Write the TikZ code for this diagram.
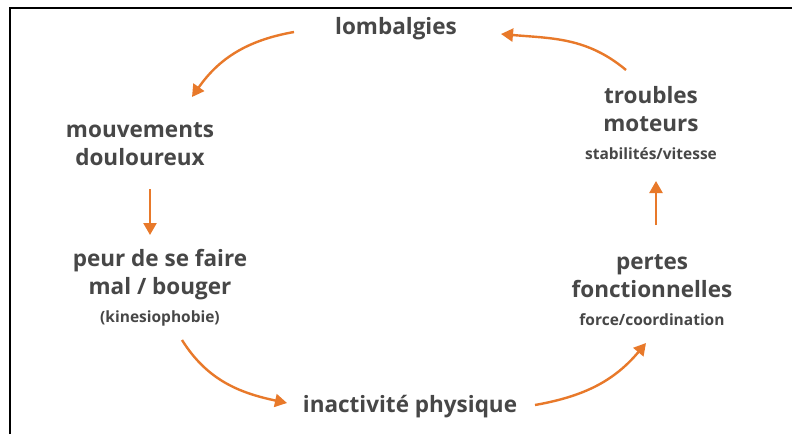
\documentclass[tikz,border=0pt]{standalone}
\usepackage{fontspec}
\setmainfont{Open Sans}
\usetikzlibrary{arrows.meta}
\definecolor{arrowor}{HTML}{E8792A}
\definecolor{txtgray}{HTML}{474747}
\newcommand{\smalltxt}[1]{{\fontsize{15.5}{17}\selectfont #1}}
\begin{document}
\begin{tikzpicture}[x=1pt,y=-1pt,
  big/.style={text=txtgray,font=\fontsize{22.5}{28}\selectfont\bfseries,align=center,inner sep=0pt},
  flow/.style={draw=arrowor,line width=2.4pt,-{Triangle[length=12pt,width=13pt]}}]
\useasboundingbox (0,0) rectangle (792,434);
\fill[white] (0,0) rectangle (792,434);
\draw[black,line width=1.6pt] (10,434) -- (10,8) -- (792,8);
% nodes
\node[big] (lomb) at (396,29) {lombalgies};
\node[big] (mouv) at (140,144) {mouvements\\douloureux};
\node[big] (peur) at (160,288) {peur de se faire\\mal / bouger\\[0pt]\smalltxt{(kinesiophobie)}};
\node[big] (inact) at (410,407) {inactivité physique};
\node[big] (pertes) at (652,290) {pertes\\fonctionnelles\\[0pt]\smalltxt{force/coordination}};
\node[big] (troub) at (651,123) {troubles\\moteurs\\[0pt]\smalltxt{stabilités/vitesse}};
% connector ends
\coordinate (a1) at (294,32);  \coordinate (b1) at (192,97);
\coordinate (a2) at (150,189); \coordinate (b2) at (150,235);
\coordinate (a3) at (182,340); \coordinate (b3) at (287,403);
\coordinate (a4) at (535,405); \coordinate (b4) at (646,343);
\coordinate (a5) at (656,225); \coordinate (b5) at (656,181);
\coordinate (a6) at (626,70);  \coordinate (b6) at (501,34);
\draw[flow] (a1) to[out=190,in=55] (b1);
\draw[flow] (a2) -- (b2);
\draw[flow] (a3) to[out=-58,in=168] (b3);
\draw[flow] (a4) to[out=10,in=230] (b4);
\draw[flow] (a5) -- (b5);
\draw[flow] (a6) to[out=140,in=-5] (b6);
\end{tikzpicture}
\end{document}
